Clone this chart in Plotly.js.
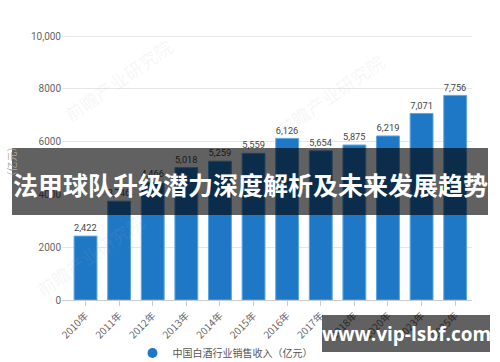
<!DOCTYPE html>
<html>
<head>
<meta charset="utf-8">
<script src="https://cdn.plot.ly/plotly-3.0.1.min.js"></script>
<style>html,body{margin:0;padding:0;background:#fff;}#chart{width:500px;height:362px;}</style>
</head>
<body>
<div id="chart"></div>
<script>
const categories = ['2010年','2011年','2012年','2013年','2014年','2015年','2016年','2017年','2018年','2020年','2023年','2025年'];
const revenue = [2422, 3746, 4466, 5018, 5259, 5559, 6126, 5654, 5875, 6219, 7071, 7756];
const yTickVals = [0, 2000, 4000, 6000, 8000, 10000];
const yTickText = ['0', '2000', '4000', '6000', '8000', '10,000'];
const seriesName = '中国白酒行业销售收入（亿元）';
const bannerText = '法甲球队升级潜力深度解析及未来发展趋势';
const siteText = 'www.vip-lsbf.com';
const watermarkText = '前瞻产业研究院';

const W = 500, H = 362, ML = 62, MR = 28, MT = 23, MB = 62;
const PW = W - ML - MR, PH = H - MT - MB;
const px = x => (x - ML) / PW;
const py = y => (H - MB - y) / PH;
const CJK = '"Noto Sans CJK SC", "Noto Sans", sans-serif';

const traces = [
  {
    type: 'bar', x: categories, y: revenue, name: seriesName, showlegend: false,
    marker: {color: '#1f78c6', line: {color: '#5aa8e4', width: 1}},
    text: revenue.map(v => v.toLocaleString('en-US')), textposition: 'outside',
    textfont: {family: 'Roboto, "DejaVu Sans", sans-serif', size: 10, color: '#444'},
    cliponaxis: false
  },
  {
    type: 'scatter', mode: 'markers', x: [null], y: [null], name: seriesName,
    marker: {color: '#1f78c6', size: 10, symbol: 'circle'}, showlegend: true, hoverinfo: 'skip'
  }
];

const ann = (x, y, text, font, angle) => ({
  xref: 'paper', yref: 'paper', x: px(x), y: py(y), xanchor: 'center', yanchor: 'middle',
  text: text, showarrow: false, textangle: angle || 0, font: font
});
const wmFont = {size: 18, color: 'rgba(180,180,180,0.12)', family: CJK};

const layout = {
  width: W, height: H,
  margin: {l: ML, r: MR, t: MT, b: MB, autoexpand: false},
  paper_bgcolor: '#fff', plot_bgcolor: '#fff',
  bargap: 0.32,
  font: {family: CJK, color: '#555'},
  xaxis: {
    type: 'category', range: [-0.7, 11.5], tickangle: -45, automargin: false,
    tickfont: {size: 10, color: '#666', family: CJK},
    ticks: 'outside', ticklen: 5, tickcolor: '#ccc',
    showline: true, linecolor: '#ccc', showgrid: false
  },
  yaxis: {
    range: [0, 10500], tickvals: yTickVals, ticktext: yTickText, automargin: false,
    tickfont: {size: 10, color: '#666', family: 'Roboto, sans-serif'},
    gridcolor: '#e6e6e6', zeroline: false, showline: false,
    title: {text: '（亿元）', font: {size: 10, color: '#aaa'}, standoff: 12}
  },
  legend: {
    orientation: 'h', x: px(225), xanchor: 'center', y: py(353), yanchor: 'middle',
    font: {size: 10, color: '#555', family: CJK}, bgcolor: 'rgba(0,0,0,0)'
  },
  shapes: [
    {type: 'rect', xref: 'paper', yref: 'paper', x0: px(12), x1: px(488), y0: py(215), y1: py(148),
     fillcolor: 'rgba(0,0,0,0.62)', line: {width: 0}, layer: 'above'},
    {type: 'rect', xref: 'paper', yref: 'paper', x0: px(322), x1: px(490), y0: py(352), y1: py(315),
     fillcolor: 'rgba(0,0,0,0.62)', line: {width: 0}, layer: 'above'}
  ],
  annotations: [
    ann(118, 80, watermarkText, wmFont, -35),
    ann(330, 95, watermarkText, wmFont, -35),
    ann(90, 255, watermarkText, wmFont, -35),
    ann(250, 184, '<b>' + bannerText + '</b>', {size: 25, color: '#fff', family: CJK}),
    ann(406, 334, '<b>' + siteText + '</b>', {size: 19, color: '#fff', family: '"Open Sans", "DejaVu Sans", sans-serif'})
  ]
};

Plotly.newPlot('chart', traces, layout, {displayModeBar: false, staticPlot: true});
</script>
</body>
</html>
